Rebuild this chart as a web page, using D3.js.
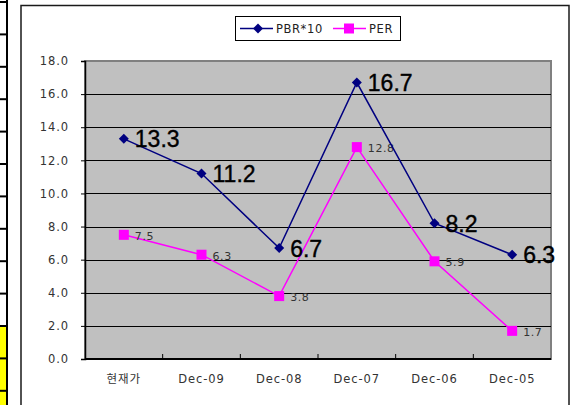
<!DOCTYPE html>
<html>
<head>
<meta charset="utf-8">
<script src="https://cdn.jsdelivr.net/npm/d3@7"></script>
<style>
  html, body { margin: 0; padding: 0; background: #fff; }
  svg { display: block; }
</style>
</head>
<body>
<svg id="chart" width="580" height="405"></svg>
<script>
// Periods, newest first
const categories = ["현재가", "Dec-09", "Dec-08", "Dec-07", "Dec-06", "Dec-05"];
// Price-to-book ratio (scaled by 10) and price-to-earnings ratio
const pbrValues = [13.3, 11.2, 6.7, 16.7, 8.2, 6.3];
const perValues = [7.5, 6.3, 3.8, 12.8, 5.9, 1.7];
const yTicks = [0, 2, 4, 6, 8, 10, 12, 14, 16, 18];
const seriesNames = ["PBR*10", "PER"];

const svg = d3.select("#chart");
const W = 580, H = 405;
const plot = { left: 85, right: 551, top: 61, bottom: 359 };
const labelFont = "'DejaVu Sans', 'Noto Sans CJK KR', sans-serif";

// Spreadsheet cells peeking out on the left edge
const rowH = 32.4;
const rows = d3.range(0, 13).map(i => 2 + i * rowH);
svg.append("g").selectAll("rect").data(rows).join("rect")
  .attr("x", 0).attr("y", d => d).attr("width", 7).attr("height", rowH)
  .attr("fill", (d, i) => i >= 10 ? "#ffff00" : "#fff");
svg.append("g").selectAll("line").data(rows).join("line")
  .attr("x1", 0).attr("x2", 8).attr("y1", d => d).attr("y2", d => d)
  .attr("stroke", "#000").attr("stroke-width", 2);
svg.append("line").attr("x1", 7).attr("x2", 7).attr("y1", 0).attr("y2", H)
  .attr("stroke", "#000").attr("stroke-width", 2);

// Chart frame
svg.append("rect")
  .attr("x", 21).attr("y", 5.5).attr("width", 548).attr("height", 420)
  .attr("fill", "#fff").attr("stroke", "#1a1a1a").attr("stroke-width", 1.5);

const x = d3.scaleBand().domain(categories).range([plot.left, plot.right]).padding(0);
const y = d3.scaleLinear().domain([0, 18]).range([plot.bottom, plot.top]);

// Plot background
svg.append("rect")
  .attr("x", plot.left).attr("y", plot.top)
  .attr("width", plot.right - plot.left).attr("height", plot.bottom - plot.top)
  .attr("fill", "#c0c0c0").attr("stroke", "#808080").attr("stroke-width", 2);

// Horizontal gridlines
svg.append("g").selectAll("line").data(yTicks.filter(t => t > 0 && t < 18)).join("line")
  .attr("x1", plot.left).attr("x2", plot.right)
  .attr("y1", d => Math.round(y(d)) + 0.5).attr("y2", d => Math.round(y(d)) + 0.5)
  .attr("stroke", "#000").attr("stroke-width", 1);

// Y axis
const yAxis = svg.append("g").attr("transform", `translate(${plot.left},0)`)
  .call(d3.axisLeft(y).tickValues(yTicks).tickFormat(d3.format(".1f")).tickSize(4).tickPadding(12));
yAxis.select(".domain").attr("stroke", "#000").attr("stroke-width", 1.5);
yAxis.selectAll(".tick line").attr("stroke", "#000");
yAxis.selectAll("text").attr("font-family", labelFont).attr("font-size", 11.5)
  .attr("fill", "#333").attr("letter-spacing", 0.9);

// X axis, ticks between categories
const xAxis = svg.append("g").attr("transform", `translate(0,${plot.bottom})`);
xAxis.append("line").attr("x1", plot.left).attr("x2", plot.right)
  .attr("y1", 0).attr("y2", 0).attr("stroke", "#000").attr("stroke-width", 2);
xAxis.selectAll("line.tk").data(categories.slice(1)).join("line").attr("class", "tk")
  .attr("x1", d => x(d)).attr("x2", d => x(d)).attr("y1", 0).attr("y2", -5)
  .attr("stroke", "#000");
xAxis.selectAll("text").data(categories).join("text")
  .attr("x", d => x(d) + x.bandwidth() / 2).attr("y", 24)
  .attr("text-anchor", "middle")
  .attr("font-family", labelFont).attr("font-size", 11.5).attr("fill", "#333")
  .attr("letter-spacing", 0.9)
  .text(d => d);

const cx = (d, i) => x(categories[i]) + x.bandwidth() / 2;
const line = d3.line().x((d, i) => cx(d, i)).y(d => y(d));

// PER series
svg.append("path").datum(perValues).attr("d", line)
  .attr("fill", "none").attr("stroke", "#ff00ff").attr("stroke-width", 1.5);
svg.append("g").selectAll("rect").data(perValues).join("rect")
  .attr("x", (d, i) => cx(d, i) - 5).attr("y", d => y(d) - 5)
  .attr("width", 10).attr("height", 10).attr("fill", "#ff00ff");
svg.append("g").selectAll("text").data(perValues).join("text")
  .attr("x", (d, i) => cx(d, i) + 11).attr("y", d => y(d) + 5)
  .attr("font-family", labelFont).attr("font-size", 11).attr("fill", "#333")
  .attr("letter-spacing", 0.6)
  .text(d => d.toFixed(1));

// PBR*10 series, square diamonds
const diamond = "M0,-5L5,0L0,5L-5,0Z";
svg.append("path").datum(pbrValues).attr("d", line)
  .attr("fill", "none").attr("stroke", "#000080").attr("stroke-width", 1.5);
svg.append("g").selectAll("path").data(pbrValues).join("path")
  .attr("d", diamond)
  .attr("transform", (d, i) => `translate(${cx(d, i)},${y(d)})`)
  .attr("fill", "#000080");
svg.append("g").selectAll("text").data(pbrValues).join("text")
  .attr("x", (d, i) => cx(d, i) + 11).attr("y", d => y(d) + 8.5)
  .attr("font-family", "'Liberation Sans', Arial, sans-serif").attr("font-size", 23)
  .attr("fill", "#000").attr("stroke", "#000").attr("stroke-width", 0.4)
  .text(d => d.toFixed(1));

// Legend
const lg = svg.append("g");
lg.append("rect").attr("x", 235.5).attr("y", 16.5).attr("width", 165).attr("height", 24)
  .attr("fill", "#fff").attr("stroke", "#000").attr("stroke-width", 1);
const legendItems = [
  { name: seriesNames[0], color: "#000080", x0: 240, kind: "diamond" },
  { name: seriesNames[1], color: "#ff00ff", x0: 333, kind: "square" }
];
legendItems.forEach(it => {
  lg.append("line").attr("x1", it.x0).attr("x2", it.x0 + 33).attr("y1", 28.5).attr("y2", 28.5)
    .attr("stroke", it.color).attr("stroke-width", 1.5);
  if (it.kind === "diamond") {
    lg.append("path").attr("d", diamond).attr("transform", `translate(${it.x0 + 18},28.5)`)
      .attr("fill", it.color);
  } else {
    lg.append("rect").attr("x", it.x0 + 11).attr("y", 23.5).attr("width", 10).attr("height", 10)
      .attr("fill", it.color);
  }
  lg.append("text").attr("x", it.x0 + 36).attr("y", 33)
    .attr("font-family", labelFont).attr("font-size", 11.5).attr("fill", "#222")
    .attr("letter-spacing", 0.6)
    .text(it.name);
});
</script>
</body>
</html>
